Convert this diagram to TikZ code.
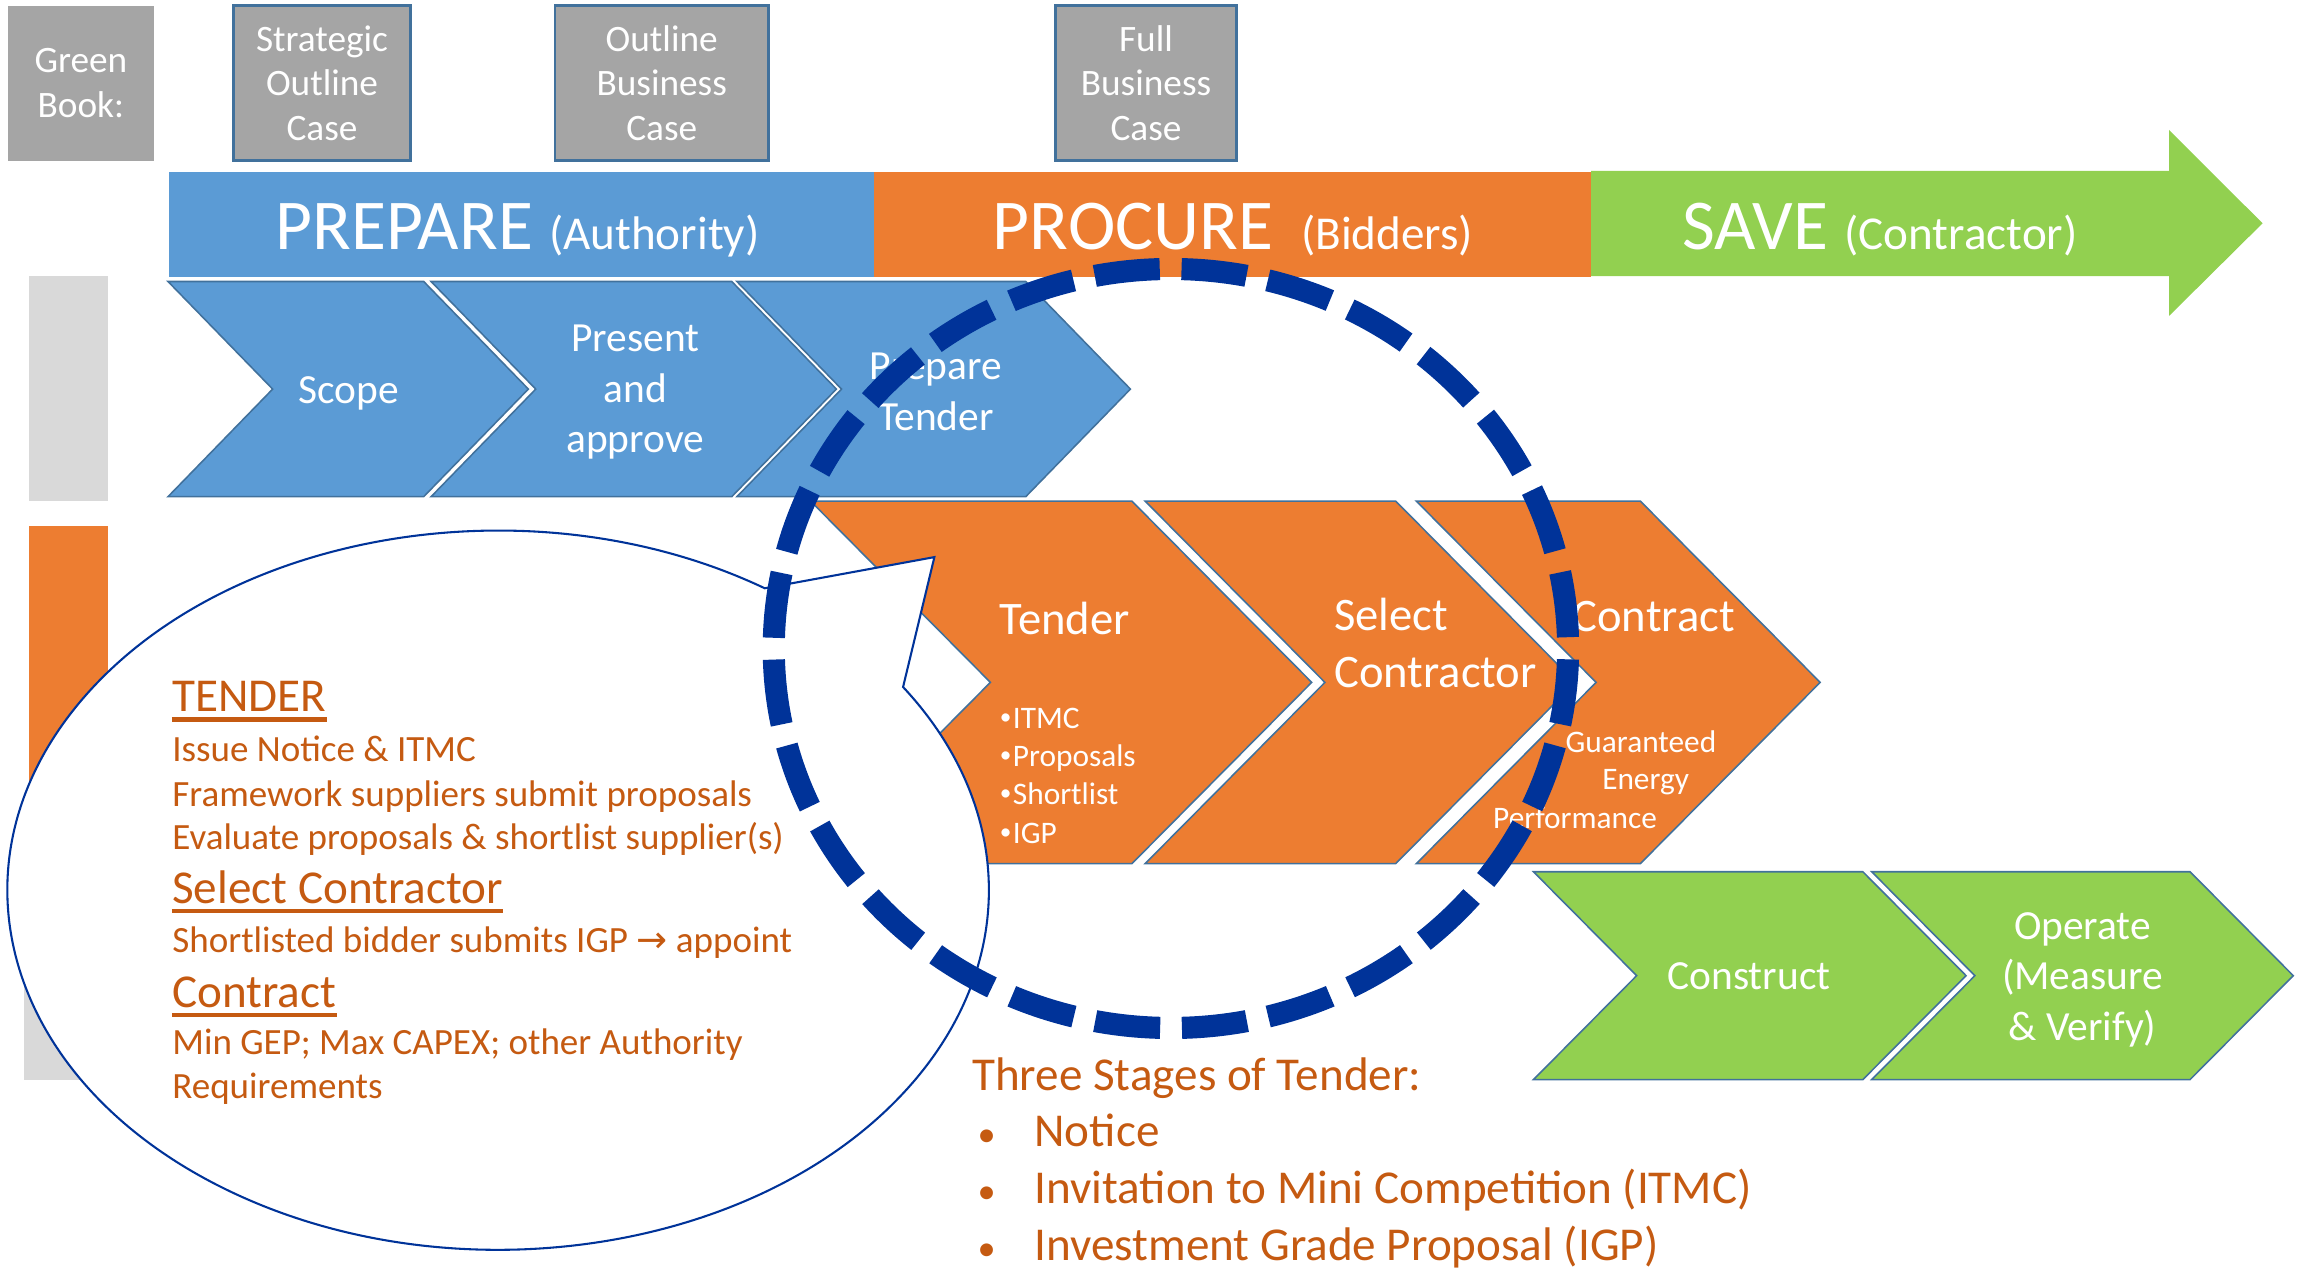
\documentclass[tikz,border=0pt]{standalone}
\usepackage{fontspec}
\setmainfont{Carlito}
\newfontfamily\arrowfont{DejaVu Sans}
\definecolor{prepblue}{HTML}{5B9BD5}
\definecolor{procorange}{HTML}{ED7D31}
\definecolor{savegreen}{HTML}{92D050}
\definecolor{boxgray}{HTML}{A5A5A5}
\definecolor{bargray}{HTML}{D9D9D9}
\definecolor{edgeblue}{HTML}{41719C}
\definecolor{ringblue}{HTML}{003399}
\definecolor{notebrown}{HTML}{C55A11}
\newcommand{\bandsub}[1]{{\fontsize{18.2}{22}\selectfont #1}}
\newcommand{\smalldot}{{\fontsize{9}{9}\selectfont\raisebox{0.35ex}{•}}}
% fill, left x, top y, width, height, point depth
\newcommand{\chevshape}[6]{%
  \draw[chevedge, fill=#1] (#2,#3) -- ++(#4,0) -- ++(#6,#5/2) -- ++(-#6,#5/2)
    -- ++(-#4,0) -- ++(#6,-#5/2) -- cycle;}
\tikzset{
  casebox/.style={rectangle, fill=boxgray, draw=edgeblue, line width=1pt, text=white,
    align=center, inner sep=0pt, font=\fontsize{14.4}{17.2}\selectfont},
  bandtext/.style={text=white, anchor=base west, inner sep=0pt, font=\fontsize{27.6}{33}\selectfont},
  chevedge/.style={draw=edgeblue, line width=0.6pt},
  chevtext/.style={text=white, align=center, anchor=base, inner sep=0pt, font=\fontsize{16}{19.5}\selectfont},
  bigtext/.style={text=white, align=left, anchor=base, inner sep=0pt, font=\fontsize{18}{22.1}\selectfont},
  smalltext/.style={text=white, anchor=base west, inner sep=0pt, font=\fontsize{12.1}{14.8}\selectfont},
  notetext/.style={text=notebrown, anchor=base west, inner sep=0pt, font=\fontsize{14.3}{17}\selectfont},
  notehead/.style={notetext, font=\fontsize{18.2}{21.8}\selectfont},
  headrule/.style={notebrown, line width=0.58mm},
  calloutline/.style={draw=ringblue, line width=0.8pt, fill=white},
}
\begin{document}
\begin{tikzpicture}[x=0.2mm, y=-0.2mm]
  \useasboundingbox (0,0) rectangle (1564,861);

  % Green Book stages
  \node at (54.9,56.5) [casebox, draw=none, minimum width=19.8mm, minimum height=21mm] (greenbook) {Green\\Book:};
  \node at (218.5,56.3) [casebox, minimum width=24.02mm, minimum height=21.08mm] (soc) {Strategic\\Outline\\Case};
  \node at (449,56.3) [casebox, minimum width=29mm, minimum height=21.08mm] (obc) {Outline\\Business\\Case};
  \node at (777.6,56.3) [casebox, minimum width=24.56mm, minimum height=21.08mm] (fbc) {Full\\Business\\Case};

  % phase band
  \fill[prepblue] (114.7,116.9) rectangle (592.8,188.2);
  \fill[procorange] (592.8,116.9) rectangle (1079.6,188.2);
  \fill[savegreen] (1079.6,116) -- (1471.7,116) -- (1471.7,88.2) -- (1535.2,151.5)
    -- (1471.7,214.4) -- (1471.7,187.3) -- (1079.6,187.3) -- cycle;
  \node at (186.6,169.6) [bandtext] (prepare) {PREPARE \bandsub{(Authority)}};
  \node at (673.4,169.6) [bandtext] (procure) {PROCURE \,\bandsub{(Bidders)}};
  \node at (1141,169.6) [bandtext] (save) {SAVE \bandsub{(Contractor)}};

  % side bars
  \fill[bargray] (19.7,187) rectangle (73,340);
  \fill[procorange] (19.7,356.6) rectangle (73,588);
  \fill[bargray] (16.3,592) rectangle (76,733);

  % chevrons
  \chevshape{prepblue}{114}{191}{173.5}{146}{71}
  \chevshape{prepblue}{292.5}{191}{204}{146}{71}
  \chevshape{prepblue}{500}{191}{196}{146}{71}
  \chevshape{procorange}{550}{340}{218}{246}{122}
  \chevshape{procorange}{777}{340}{170}{246}{122}
  \chevshape{procorange}{961}{340}{152}{246}{122}
  \chevshape{savegreen}{1040.5}{591.5}{223.5}{141}{70}
  \chevshape{savegreen}{1270}{591.5}{216}{141}{70}

  \node at (236.7,273.5) [chevtext] (scope) {Scope};
  \node at (431,307.2) [chevtext] (present) {Present\\and\\approve};
  \node at (635,291.8) [chevtext] (preptender) {Prepare\\Tender};
  \node at (722.4,430.4) [bigtext] (tender) {Tender};
  \foreach \item [count=\i] in {ITMC, Proposals, Shortlist, IGP}
    \node at (678,494+26*\i-26) [smalltext] (tb\i) {\smalldot\hspace{0.6pt}\item};
  \node at (905,466.3) [bigtext, anchor=base west] (select) {Select\\Contractor};
  \node at (1122,428.6) [bigtext] (contract) {Contract};
  \node at (1062,510.7) [smalltext] (gep1) {Guaranteed};
  \node at (1086.8,536) [smalltext] (gep2) {Energy};
  \node at (1012.8,562) [smalltext] (gep3) {Performance};
  \node at (1186.7,671.7) [chevtext] (construct) {Construct};
  \node at (1413,705.7) [chevtext] (operate) {Operate\\(Measure\\\& Verify)};

  % callout
  \draw[calloutline] (338,604) ++(-57.1:333 and 244)
    arc[start angle=-57.1, end angle=-394.4, x radius=333, y radius=244] -- (634,378) -- cycle;
  \node at (116.6,483) [notehead] (hdtender) {TENDER};
  \node at (116.6,516.5) [notetext] (nt1) {Issue Notice \& ITMC};
  \node at (116.6,546.9) [notetext] (nt2) {Framework suppliers submit proposals};
  \node at (116.6,576.4) [notetext] (nt3) {Evaluate proposals \& shortlist supplier(s)};
  \node at (116.6,613.1) [notehead] (hdselect) {Select Contractor};
  \node at (116.6,646.4) [notetext] (ns1) {Shortlisted bidder submits IGP {\arrowfont →} appoint};
  \node at (116.6,683.4) [notehead] (hdcontract) {Contract};
  \node at (116.6,715.3) [notetext] (nc1) {Min GEP; Max CAPEX; other Authority};
  \node at (116.6,745.6) [notetext] (nc2) {Requirements};
  \draw[headrule] ([yshift=-1.04mm]hdtender.base west) -- ([yshift=-1.04mm]hdtender.base east);
  \draw[headrule] ([yshift=-1.04mm]hdselect.base west) -- ([yshift=-1.04mm]hdselect.base east);
  \draw[headrule] ([yshift=-1.04mm]hdcontract.base west) -- ([yshift=-1.04mm]hdcontract.base east);

  % three stages
  \node at (659.3,739.6) [notehead] (stages) {Three Stages of Tender:};
  \foreach \item [count=\i] in {Notice, Invitation to Mini Competition (ITMC), Investment Grade Proposal (IGP)} {
    \node at (663,778+38.5*\i-38.5) [notehead, font=\fontsize{14}{14}\selectfont] (dot\i) {•};
    \node at (701.6,778+38.5*\i-38.5) [notehead] (stage\i) {\item};
  }

  % tender ring
  \draw[ringblue, line width=3mm, dash pattern=on 8.87mm off 2.957mm, dash phase=10.35mm]
    (794.5,440) ellipse [x radius=269.5, y radius=257.5];
\end{tikzpicture}
\end{document}
